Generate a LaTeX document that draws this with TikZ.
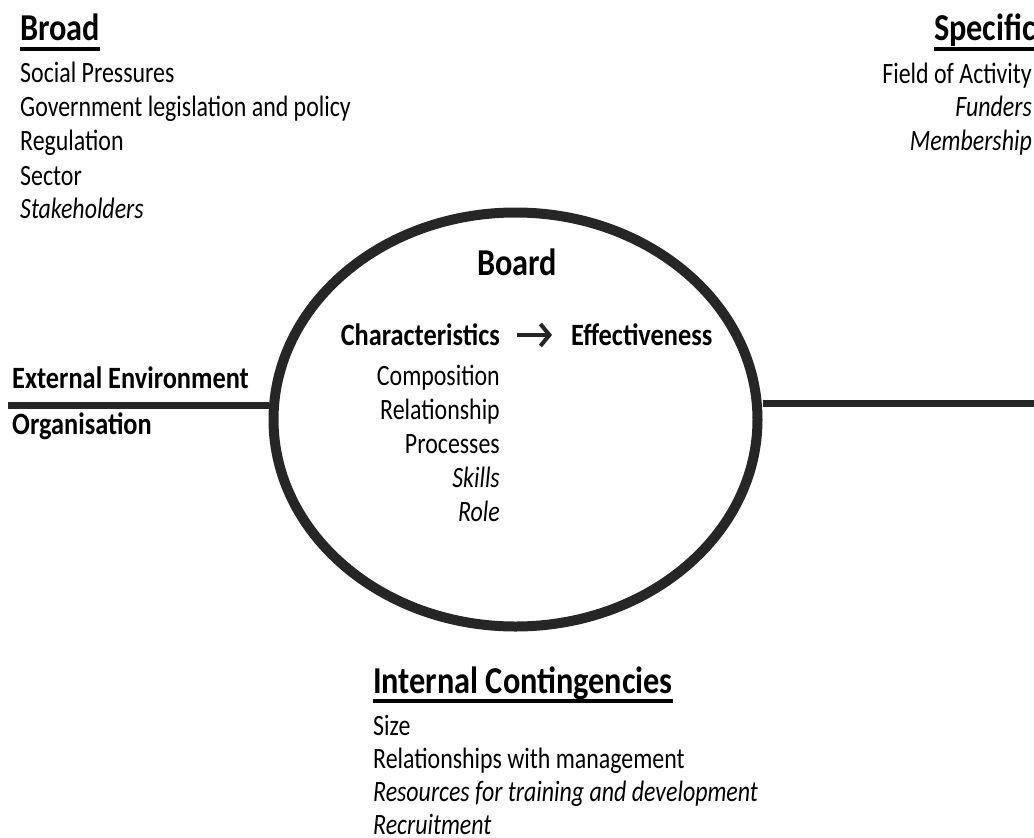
\documentclass[tikz,border=0pt]{standalone}
\usepackage{fontspec}
\setmainfont{Carlito}[FakeStretch=0.85]
\newfontfamily\bodyfont{Carlito}[FakeStretch=0.81]
\usetikzlibrary{shapes.geometric,arrows.meta}
\definecolor{ink}{RGB}{38,38,38}
\tikzset{
  body/.style={inner sep=0pt, font=\bodyfont\fontsize{29.5}{34}\selectfont, text=black},
  bodyit/.style={body, font=\bodyfont\fontsize{29.5}{34}\selectfont\itshape},
  head/.style={inner sep=0pt, font=\fontsize{38}{42}\selectfont\bfseries, text=black},
  subhead/.style={inner sep=0pt, font=\fontsize{31}{36}\selectfont\bfseries, text=black},
  uline/.style={line width=4pt, draw=black},
  divider/.style={line width=7pt, draw=ink},
  ring/.style={ellipse, draw=ink, line width=10pt, minimum width=484pt, minimum height=414pt, inner sep=0pt},
  flow/.style={line width=4pt, draw=ink, -{Straight Barb[length=9pt,width=22pt,line width=4pt]}}
}
\begin{document}
\begin{tikzpicture}[x=1pt,y=-1pt]
\useasboundingbox[fill=white] (0,0) rectangle (1034,838);

% ring
\node[ring] (ring) at (515.5,419.5) {};

% dividers
\coordinate (lstart) at (8,405);
\coordinate (rend) at (1034,403);
\draw[divider] (lstart) -- (lstart -| ring.west);
\draw[divider] (ring.east |- rend) -- (rend);

% Broad
\node[head, anchor=base west] (broad) at (20,40) {Broad};
\draw[uline] ([yshift=-9pt]broad.base west) -- ([yshift=-9pt]broad.base east);
\node[body, anchor=base west] (b1) at (20,82) {Social Pressures};
\node[body, anchor=base west] (b2) at (20,116) {Government legislation and policy};
\node[body, anchor=base west] (b3) at (20,150) {Regulation};
\node[body, anchor=base west] (b4) at (20,185) {Sector};
\node[bodyit, anchor=base west] (b5) at (20,218) {Stakeholders};

% Specific
\node[head, anchor=base east] (spec) at (1036,40) {Specific};
\draw[uline] ([yshift=-9pt]spec.base west) -- ([yshift=-9pt]spec.base east);
\node[body, anchor=base east] (s1) at (1032,83) {Field of Activity};
\node[bodyit, anchor=base east] (s2) at (1032,116) {Funders};
\node[bodyit, anchor=base east] (s3) at (1032,150) {Membership};

% External / Organisation
\node[subhead, anchor=base west] (ext) at (12,388) {External Environment};
\node[subhead, anchor=base west] (org) at (12,434) {Organisation};

% Board
\node[head, anchor=base] (board) at (517,275) {Board};
\node[subhead, anchor=base east] (char) at (500,345) {Characteristics};
\node[subhead, anchor=base west] (eff) at (571,345) {Effectiveness};
\draw[flow] ([xshift=17pt,yshift=10pt]char.base east) -- ([xshift=-19pt,yshift=10pt]eff.base west);
\node[body, anchor=base east] (c1) at (500,385) {Composition};
\node[body, anchor=base east] (c2) at (500,419) {Relationship};
\node[body, anchor=base east] (c3) at (500,453) {Processes};
\node[bodyit, anchor=base east] (c4) at (500,487) {Skills};
\node[bodyit, anchor=base east] (c5) at (500,521) {Role};

% Internal Contingencies
\node[head, anchor=base west] (ic) at (373,693) {Internal Contingencies};
\draw[uline] ([yshift=-8pt]ic.base west) -- ([yshift=-8pt]ic.base east);
\node[body, anchor=base west] (i1) at (373,735) {Size};
\node[body, anchor=base west] (i2) at (373,768) {Relationships with management};
\node[bodyit, anchor=base west] (i3) at (373,801) {Resources for training and development};
\node[bodyit, anchor=base west] (i4) at (373,834) {Recruitment};
\end{tikzpicture}
\end{document}
